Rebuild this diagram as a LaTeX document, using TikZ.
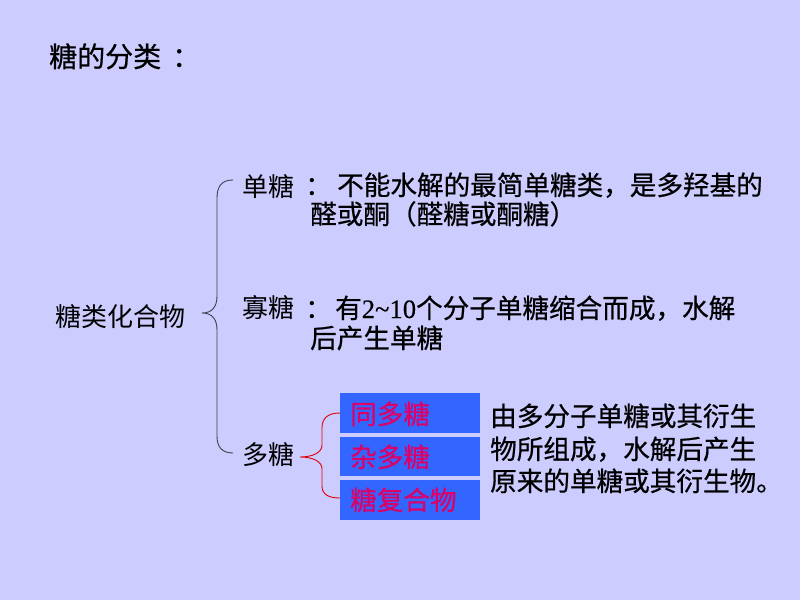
\documentclass[tikz,border=0pt]{standalone}
\usepackage{fontspec}
\newfontfamily\cjk{Noto Sans CJK SC}
\newfontfamily\cjkb[FakeBold=0.6]{Noto Sans CJK SC}
\newfontfamily\tnr[FakeBold=0.4]{Liberation Serif}
\definecolor{bgc}{HTML}{CCCCFF}
\definecolor{boxc}{HTML}{3366FF}
\definecolor{pinkc}{HTML}{DD0066}
\definecolor{bracec}{HTML}{404050}
\definecolor{redc}{HTML}{E00000}
\tikzset{
  lbl/.style={anchor=base west, inner sep=0pt, font=\cjk\fontsize{26}{30}\selectfont, text=black},
  txt/.style={anchor=base west, inner sep=0pt, font=\cjkb\fontsize{26.6}{30}\selectfont, text=black},
  ttl/.style={anchor=base west, inner sep=0pt, font=\cjkb\fontsize{28}{32}\selectfont, text=black},
  bluebox/.style={fill=boxc, draw=none},
  boxtxt/.style={anchor=base west, inner sep=0pt, font=\cjkb\fontsize{26.6}{30}\selectfont, text=pinkc},
}
\begin{document}
\begin{tikzpicture}[x=1pt,y=-1pt]
\fill[bgc] (0,0) rectangle (800,600);
\useasboundingbox (0,0) rectangle (800,600);
% title
\node[ttl] (title) at (49,67) {糖的分类};
\node[ttl] (tcolon) at (172,67) {：};
% root
\node[lbl] (root) at (55,326) {糖类化合物};
% black brace
\draw[bracec, line width=0.9pt] (233,180) .. controls (222,180) and (217,186) .. (217,198) -- (217,296) .. controls (217,307) and (212,313) .. (202,313) .. controls (212,313) and (217,319) .. (217,330) -- (217,436) .. controls (217,447) and (222,453) .. (233,453);
% labels
\node[lbl] (mono) at (242,196) {单糖};
\node[lbl] (oligo) at (242,317) {寡糖};
\node[lbl] (poly) at (242,464) {多糖};
% mono description
\node[txt] (c1) at (305,195) {：};
\node[txt] (m1) at (337,195) {不能水解的最简单糖类，是多羟基的};
\node[txt] (m2) at (310,224) {醛或酮（醛糖或酮糖）};
% oligo description
\node[txt] (c2) at (305,318) {：};
\node[txt] (o1) at (335,318) {有{\tnr 2\textasciitilde 10}个分子单糖缩合而成，水解};
\node[txt] (o2) at (310,348) {后产生单糖};
% blue boxes
\fill[bluebox] (340,393) rectangle (480,433);
\fill[bluebox] (340,437) rectangle (480,476);
\fill[bluebox] (340,480) rectangle (480,520);
\node[boxtxt] (b1) at (350,424) {同多糖};
\node[boxtxt] (b2) at (350,467) {杂多糖};
\node[boxtxt] (b3) at (350,510) {糖复合物};
% red brace
\draw[redc, line width=0.9pt] (340,413) .. controls (328,413) and (322,418) .. (322,428) -- (322,445) .. controls (322,453) and (312,457) .. (300,457) .. controls (312,457) and (322,461) .. (322,469) -- (322,486) .. controls (322,494) and (328,498) .. (340,498);
% poly description
\node[txt] (p1) at (490,426) {由多分子单糖或其衍生};
\node[txt] (p2) at (490,459) {物所组成，水解后产生};
\node[txt] (p3) at (490,491) {原来的单糖或其衍生物。};
\end{tikzpicture}
\end{document}
